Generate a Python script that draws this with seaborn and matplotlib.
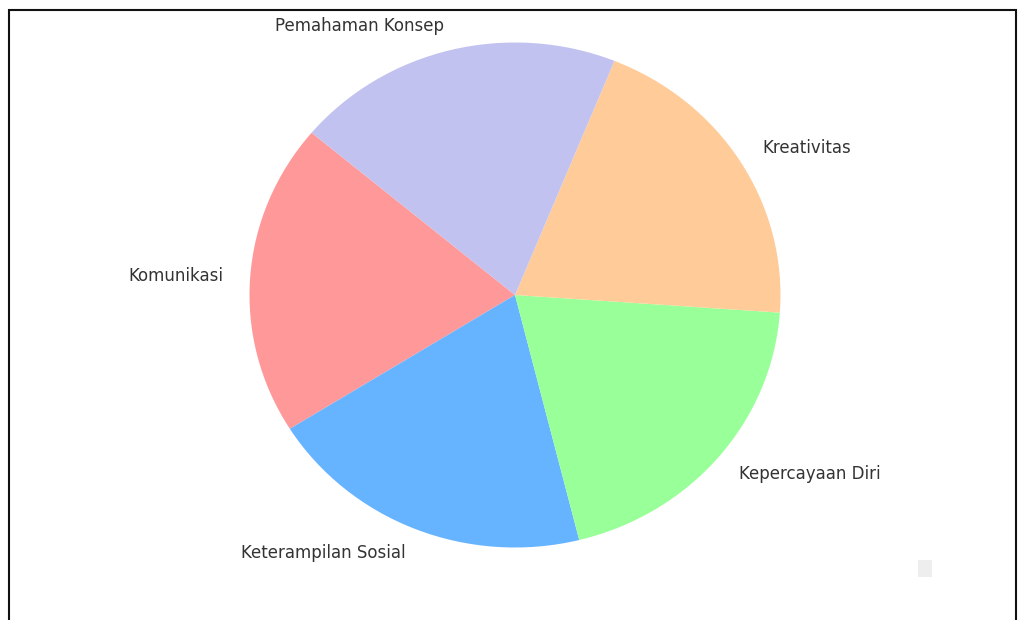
import matplotlib
matplotlib.use("Agg")
import matplotlib.pyplot as plt
import seaborn as sns
from matplotlib.patches import Rectangle

sns.set_theme(style="white")
plt.rcParams['font.family'] = ['DejaVu Sans']

labels = ['Komunikasi', 'Keterampilan Sosial', 'Kepercayaan Diri', 'Kreativitas', 'Pemahaman Konsep']
sizes = [20, 20, 20, 20, 20]
colors = ['#ff9999', '#66b3ff', '#99ff99', '#ffcc99', '#c2c2f0']

fig = plt.figure(figsize=(10.19, 6.2), dpi=100)
ax = fig.add_axes([0, 0, 1, 1])
ax.pie(sizes, labels=labels, colors=colors, startangle=140,
       wedgeprops={'linewidth': 0, 'edgecolor': 'none'},
       textprops={'fontsize': 12, 'color': '#333333'})
ax.set_aspect('auto')
ax.set_xlim(-515 / 265.5, (1019 - 515) / 265.5)
ax.set_ylim(-325 / 252.5, 295 / 252.5)
ax.axis('off')

# frame of the original screenshot
fig.patches.append(Rectangle((9 / 1019, -0.1), 1007 / 1019, 1.1 - 10 / 620,
                             transform=fig.transFigure, fill=False,
                             edgecolor='#111111', linewidth=1.5))
fig.patches.append(Rectangle((918 / 1019, 1 - 577 / 620), 14 / 1019, 17 / 620,
                             transform=fig.transFigure, facecolor='#eeeeee',
                             edgecolor='none'))

fig.savefig('out.png', dpi=100)
